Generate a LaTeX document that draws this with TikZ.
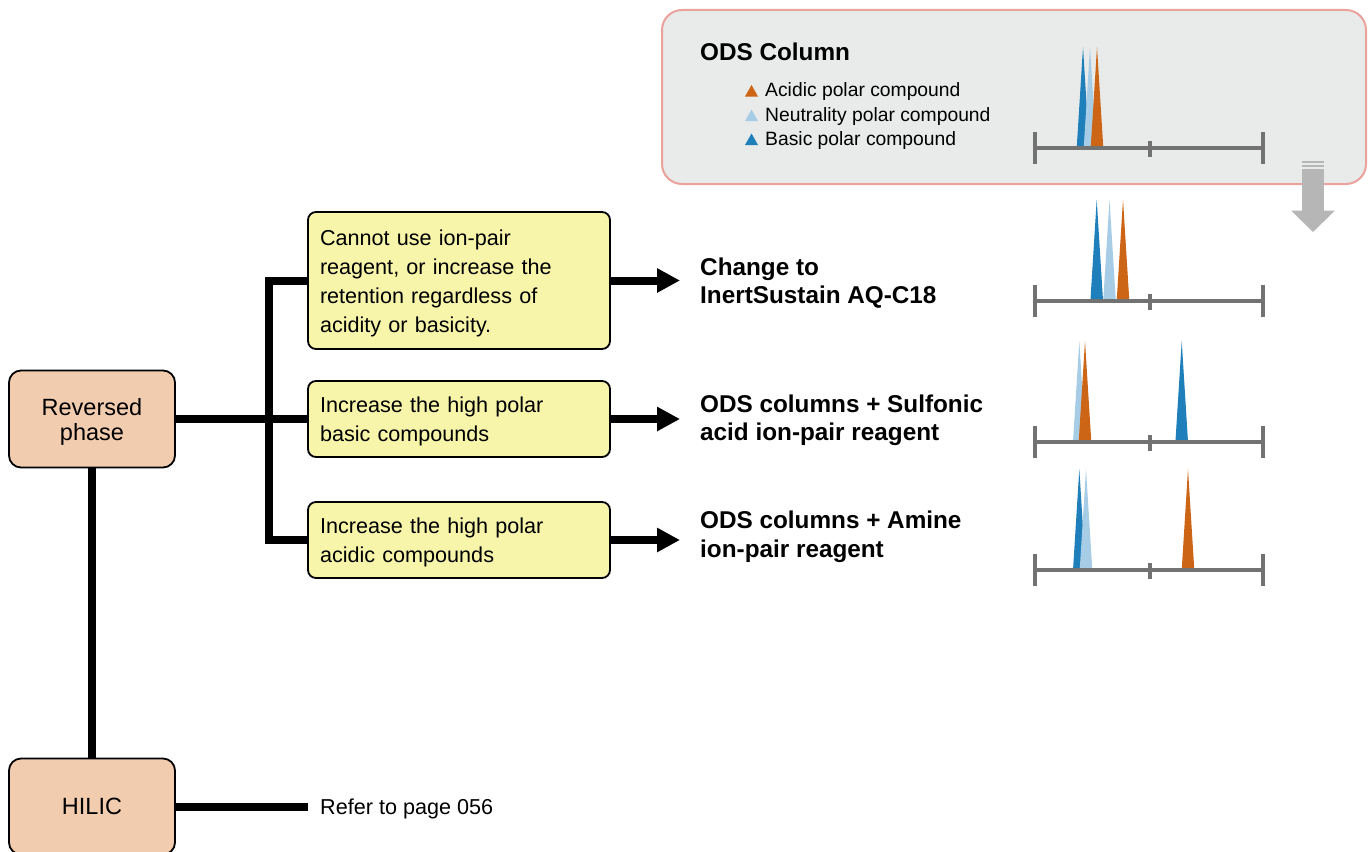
\documentclass[tikz,border=0pt]{standalone}
\usepackage{fontspec}
\setmainfont{Liberation Sans}
\usetikzlibrary{arrows.meta}
\definecolor{orangec}{HTML}{CD6516}
\definecolor{bluec}{HTML}{1F7FBA}
\definecolor{lbluec}{HTML}{A7CDE6}
\definecolor{axisc}{HTML}{727272}
\definecolor{peachc}{HTML}{F2CCAE}
\definecolor{yellowc}{HTML}{F7F5AA}
\definecolor{boxgray}{HTML}{E9EAEA}
\definecolor{boxborder}{HTML}{EBA29D}
\definecolor{arrgray}{HTML}{B5B6B5}
\newcommand{\chromaxis}[1]{%
  \draw[axisline] (1035,#1) -- (1263,#1);
  \draw[axisline] (1035,{#1-16}) -- (1035,{#1+16});
  \draw[axisline] (1263,{#1-16}) -- (1263,{#1+16});
  \draw[axisline] (1150,{#1-7}) -- (1150,{#1+9});}
\newcommand{\chrompeak}[3]{\fill[#1] ({#2-6.3},#3) -- ({#2+6.3},#3) -- (#2,{#3-101}) -- cycle;}
\newcommand{\ytop}{\rule{0pt}{21pt}}
\newcommand{\ptop}{\rule{0pt}{23pt}}
\begin{document}
\begin{tikzpicture}[x=1pt,y=-1pt,
  conn/.style={line width=8pt, line join=miter},
  arr/.style={line width=8pt, -{Triangle[length=23pt,width=23pt]}},
  yellowbox/.style={draw=black, line width=1.8pt, fill=yellowc, rounded corners=8pt,
    minimum width=302pt, text width=278pt, align=left, inner sep=0pt,
    font=\fontsize{21.6}{29}\selectfont},
  peachbox/.style={draw=black, line width=1.8pt, fill=peachc, rounded corners=12pt,
    minimum width=166pt, minimum height=97pt, align=center, inner sep=0pt,
    font=\fontsize{23.5}{25}\selectfont},
  result/.style={anchor=west, align=left, inner sep=0pt,
    font=\bfseries\fontsize{24.3}{28.5}\selectfont},
  legend/.style={anchor=west, inner sep=0pt, font=\fontsize{19.3}{23}\selectfont},
  axisline/.style={draw=axisc, line width=4pt}]
\useasboundingbox (0,0) rectangle (1372,851);

% ODS column panel
\node[draw=boxborder, line width=2pt, fill=boxgray, rounded corners=20pt,
  minimum width=704pt, minimum height=174pt, inner sep=0pt] (ods) at (1014,97) {};
\node[result] (odstitle) at (700,52) {ODS Column};
\fill[orangec] (745,96.5) -- (758,96.5) -- (751.5,85) -- cycle;
\fill[lbluec] (745,121) -- (758,121) -- (751.5,109.5) -- cycle;
\fill[bluec] (745,145) -- (758,145) -- (751.5,133.5) -- cycle;
\node[legend] (lg1) at (765,92) {Acidic polar compound};
\node[legend] (lg2) at (765,117) {Neutrality polar compound};
\node[legend] (lg3) at (765,141) {Basic polar compound};

% chromatogram 1
\chrompeak{bluec}{1083}{148}
\chrompeak{lbluec}{1090}{148}
\chrompeak{orangec}{1097}{148}
\chromaxis{148}

% gray arrow
\fill[arrgray] (1302,168.5) rectangle (1324,211);
\fill[arrgray] (1302,161) rectangle (1324,162.5);
\fill[arrgray] (1302,164.5) rectangle (1324,166.5);
\fill[arrgray] (1291,210.5) -- (1335,210.5) -- (1313,232) -- cycle;

% chromatogram 2
\chrompeak{bluec}{1096.7}{300.5}
\chrompeak{lbluec}{1109.5}{300.5}
\chrompeak{orangec}{1123}{300.5}
\chromaxis{300.5}

% chromatogram 3
\chrompeak{lbluec}{1079.3}{442}
\chrompeak{orangec}{1085}{442}
\chrompeak{bluec}{1181.7}{442}
\chromaxis{442}

% chromatogram 4
\chrompeak{bluec}{1079.3}{570}
\chrompeak{lbluec}{1086}{570}
\chrompeak{orangec}{1188}{570}
\chromaxis{570}

% left boxes
\node[peachbox] (rp) at (92,419) {\ptop Reversed\\phase};
\node[peachbox, minimum height=96pt] (hilic) at (92,806.5) {HILIC};

% yellow boxes
\node[yellowbox, minimum height=137pt] (b1) at (459,280.5)
  {\ytop Cannot use ion-pair\\reagent, or increase the\\retention regardless of\\acidity or basicity.};
\node[yellowbox, minimum height=76pt] (b2) at (459,419)
  {\ytop Increase the high polar\\basic compounds};
\node[yellowbox, minimum height=76pt] (b3) at (459,540)
  {\ytop Increase the high polar\\acidic compounds};

% results
\node[result] (r1) at (700,283) {Change to\\InertSustain AQ-C18};
\node[result] (r2) at (700,420.5) {ODS columns + Sulfonic\\acid ion-pair reagent};
\node[result] (r3) at (700,537) {ODS columns + Amine\\ion-pair reagent};

\node[anchor=west, inner sep=0pt, font=\fontsize{21.6}{26}\selectfont] (ref) at (320,808.5) {Refer to page 056};

% connectors
\draw[conn] (rp.east) -- (b2.west);
\draw[conn] (rp.south) -- (hilic.north);
\draw[conn] (b1.west) -- ++(-38,0) |- (b3.west);
\draw[conn, shorten >=12pt] (hilic.east) -- (hilic.east -| ref.west);
\draw[arr, shorten >=20pt] (b1.east) -- (b1.east -| r1.west);
\draw[arr, shorten >=20pt] (b2.east) -- (b2.east -| r2.west);
\draw[arr, shorten >=20pt] (b3.east) -- (b3.east -| r3.west);
\end{tikzpicture}
\end{document}
